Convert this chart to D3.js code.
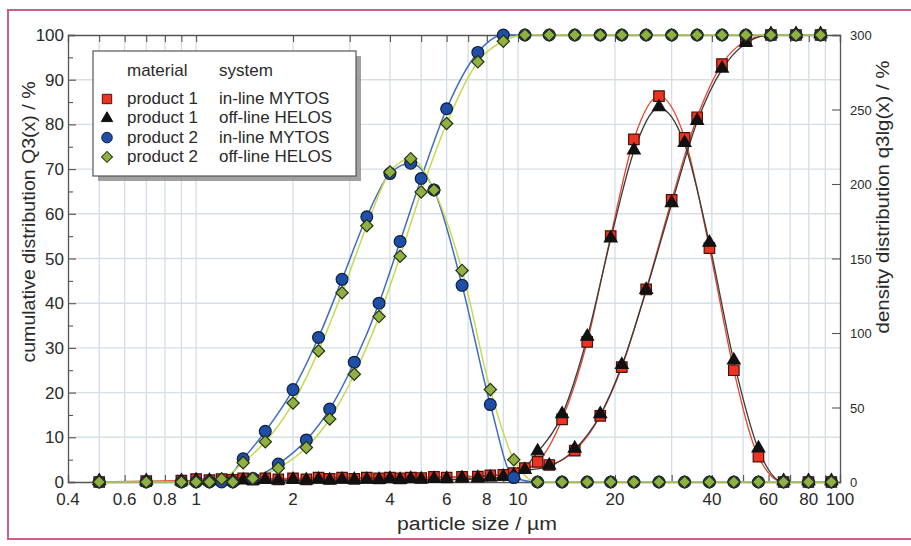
<!DOCTYPE html>
<html><head><meta charset="utf-8">
<script src="https://cdn.jsdelivr.net/npm/d3@7"></script>
<style>
html,body{margin:0;padding:0;background:#fff;}
svg{display:block;}
text{font-family:"Liberation Sans",Arial,Helvetica,sans-serif;fill:#2a2a2a;}
</style></head>
<body>
<svg id="chart" width="911" height="546"></svg>
<script>
// ---- data ----
const xTickLabels = [0.4, 0.6, 0.8, 1, 2, 4, 6, 8, 10, 20, 40, 60, 80, 100];
const yLeftTicks = [0,10,20,30,40,50,60,70,80,90,100];
const yRightTicks = [0,50,100,150,200,250,300];

// class upper limits (cumulative Q3)
const xCum = [0.5, 0.7, 0.9, 1.1, 1.3, 1.5, 1.8, 2.2, 2.6, 3.1, 3.7, 4.3, 5.0, 6.0, 7.5, 9.0, 10.5, 12.5, 15, 18, 21, 25, 30, 36, 43, 51, 61, 73, 87];
// class centres (density q3lg)
const xDen = [1.0, 1.2, 1.4, 1.64, 2.0, 2.4, 2.84, 3.39, 4.0, 4.64, 5.48, 6.7, 8.2, 9.7, 11.5, 13.7, 16.4, 19.4, 22.9, 27.4, 32.9, 39.3, 46.8, 55.8, 66.8, 79.8, 94];

// cumulative distribution Q3 (%)
const p1MytosCum = [0, 0.2, 0.3, 0.4, 0.5, 0.5, 0.6, 0.6, 0.7, 0.7, 0.8, 0.8, 0.9, 1.0, 1.2, 1.6, 3.1, 3.8, 7.0, 14.8, 25.7, 43.1, 63.1, 81.6, 93.5, 98.6, 100, 100, 100];
const p1HelosCum = [0, 0, 0, 0.1, 0.1, 0.1, 0.2, 0.2, 0.2, 0.3, 0.3, 0.3, 0.4, 0.5, 0.7, 1.0, 2.5, 3.5, 7.3, 15.0, 26.0, 42.8, 62.2, 80.6, 92.3, 98.1, 100, 100, 100];
const p2MytosCum = [0, 0, 0, 0, 0, 0.8, 4.0, 9.4, 16.3, 26.8, 40.0, 53.8, 67.9, 83.5, 96.1, 100, 100, 100, 100, 100, 100, 100, 100, 100, 100, 100, 100, 100, 100];
const p2HelosCum = [0, 0, 0, 0, 0, 0.8, 3.1, 7.7, 14.1, 24.1, 37.0, 50.5, 64.9, 80.2, 94.0, 98.6, 100, 100, 100, 100, 100, 100, 100, 100, 100, 100, 100, 100, 100];

// density distribution q3lg (%)
const p1MytosDen = [2, 2, 2.5, 2.5, 2.5, 3, 3, 3, 3, 3, 3.5, 3.5, 4.5, 6, 13.5, 42, 94, 165, 230, 259, 231, 157, 75, 17, 0, 0, 0];
const p1HelosDen = [0.5, 0.5, 0.5, 1, 1, 1, 1, 1, 1.5, 1.5, 1.5, 2, 2.5, 4, 20, 45, 97, 163, 222, 251, 227, 160, 81, 22, 0, 0, 0];
const p2MytosDen = [0, 0, 15.6, 34, 62, 97, 136, 178, 207, 214, 196, 132, 52, 3, 0, 0, 0, 0, 0, 0, 0, 0, 0, 0, 0, 0, 0];
const p2HelosDen = [0, 2, 13, 27, 53, 88, 127, 172, 208, 217, 196, 142, 62, 15, 0, 0, 0, 0, 0, 0, 0, 0, 0, 0, 0, 0, 0];

const legendRows = [
  {material:"product 1", system:"in-line MYTOS", key:"p1m"},
  {material:"product 1", system:"off-line HELOS", key:"p1h"},
  {material:"product 2", system:"in-line MYTOS", key:"p2m"},
  {material:"product 2", system:"off-line HELOS", key:"p2h"}
];

// ---- styles ----
const styles = {
  p1m:{line:"#e2462c", fill:"#ee3322", stroke:"#4a1208", shape:d3.symbolSquare, size:110, lw:1.3, rot:0},
  p1h:{line:"#3a3a3a", fill:"#111111", stroke:"#111111", shape:d3.symbolTriangle, size:70, lw:1.3, rot:0},
  p2m:{line:"#3d6cc2", fill:"#1f4ea6", stroke:"#0f1f40", shape:d3.symbolCircle, size:110, lw:1.5, rot:0},
  p2h:{line:"#c6da4c", fill:"#8fb042", stroke:"#27330e", shape:d3.symbolSquare, size:76, lw:1.5, rot:45}
};

const svg = d3.select("#chart");
const L = 68, R = 840, T = 35, B = 482;

const x = d3.scaleLog().domain([0.4, 100]).range([L, R]);
const yL = d3.scaleLinear().domain([0, 100]).range([B, T]);
const yR = d3.scaleLinear().domain([0, 300]).range([B, T]);

// frame
svg.append("rect").attr("x",8).attr("y",10).attr("width",940).attr("height",529)
  .attr("fill","none").attr("stroke","#cf5d89").attr("stroke-width",2);

// grid
const logTicks = [];
[0.1,1,10].forEach(d => { for (let k=1;k<=9;k++){ const v = d*k; if (v>=0.4 && v<=100) logTicks.push(+v.toPrecision(3)); } });
logTicks.push(100);
const grid = svg.append("g");
grid.selectAll("line.v").data(logTicks.filter(v=>v>0.4 && v<100)).join("line")
  .attr("x1",d=>x(d)).attr("x2",d=>x(d)).attr("y1",T).attr("y2",B)
  .attr("stroke","#cfdbe6").attr("stroke-width",1.2);
grid.selectAll("line.h").data(yLeftTicks.filter(v=>v>0 && v<100)).join("line")
  .attr("x1",L).attr("x2",R).attr("y1",d=>yL(d)).attr("y2",d=>yL(d))
  .attr("stroke","#d5dfe8").attr("stroke-width",1.4);

// axes
const axCol = "#555";
const axBottom = svg.append("g").attr("transform",`translate(0,${B})`)
  .call(d3.axisBottom(x).tickValues(logTicks).tickSize(-7).tickFormat(""));
const axTop = svg.append("g").attr("transform",`translate(0,${T})`)
  .call(d3.axisTop(x).tickValues(logTicks).tickSize(-7).tickFormat(""));
const axLeft = svg.append("g").attr("transform",`translate(${L},0)`)
  .call(d3.axisLeft(yL).tickValues(d3.range(0,101,5)).tickSize(-7).tickFormat(""));
const axRight = svg.append("g").attr("transform",`translate(${R},0)`)
  .call(d3.axisRight(yR).tickValues(yRightTicks).tickSize(-8).tickFormat(""));
[axBottom, axTop, axLeft, axRight].forEach(g => {
  g.select(".domain").attr("stroke",axCol).attr("stroke-width",1.3);
  g.selectAll(".tick line").attr("stroke",axCol).attr("stroke-width",1.1);
});
axLeft.selectAll(".tick line").attr("x2", d => d%10===0 ? 8 : 5);

// tick labels
const tl = svg.append("g").style("font-size","17px");
tl.selectAll("text.x").data(xTickLabels).join("text")
  .attr("x",d=>x(d)).attr("y",505).attr("text-anchor","middle").text(d=>d);
tl.selectAll("text.yl").data(yLeftTicks).join("text")
  .attr("x",L-4).attr("y",d=>yL(d)+6).attr("text-anchor","end").text(d=>d);
tl.selectAll("text.yr").data(yRightTicks).join("text")
  .attr("x",R+10).attr("y",d=>yR(d)+5).attr("text-anchor","start").style("font-size","13px").text(d=>d);

// axis titles
svg.append("text").attr("x",477).attr("y",530).attr("text-anchor","middle")
  .style("font-size","18px").attr("textLength",160).attr("lengthAdjust","spacingAndGlyphs")
  .text("particle size / \u00b5m");
svg.append("text").attr("transform","translate(35,222) rotate(-90)").attr("text-anchor","middle")
  .style("font-size","18px").attr("textLength",281).attr("lengthAdjust","spacingAndGlyphs")
  .text("cumulative distribution Q3(x) / %");
svg.append("text").attr("transform","translate(889,197) rotate(-90)").attr("text-anchor","middle")
  .style("font-size","18px").attr("textLength",273).attr("lengthAdjust","spacingAndGlyphs")
  .text("density distribution q3lg(x) / %");

// series
const series = [
  {key:"p1m", xs:xCum, ys:p1MytosCum, sc:yL},
  {key:"p1m", xs:xDen, ys:p1MytosDen, sc:yR},
  {key:"p1h", xs:xCum, ys:p1HelosCum, sc:yL},
  {key:"p1h", xs:xDen, ys:p1HelosDen, sc:yR},
  {key:"p2m", xs:xCum, ys:p2MytosCum, sc:yL},
  {key:"p2m", xs:xDen, ys:p2MytosDen, sc:yR},
  {key:"p2h", xs:xCum, ys:p2HelosCum, sc:yL},
  {key:"p2h", xs:xDen, ys:p2HelosDen, sc:yR}
];
const lineGen = d3.line().curve(d3.curveMonotoneX);
const linesG = svg.append("g");
series.forEach(s => {
  const pts = s.xs.map((xv,i)=>[x(xv), s.sc(s.ys[i])]);
  linesG.append("path").attr("d",lineGen(pts)).attr("fill","none")
    .attr("stroke",styles[s.key].line).attr("stroke-width",styles[s.key].lw);
});
const marksG = svg.append("g");
["p1m","p1h","p2m","p2h"].forEach(k => {
  const st = styles[k];
  const sym = d3.symbol().type(st.shape).size(st.size);
  series.filter(s=>s.key===k).forEach(s => {
    marksG.selectAll(null).data(s.xs.map((xv,i)=>[xv,s.ys[i]])).join("path")
      .attr("d",sym)
      .attr("transform",d=>`translate(${x(d[0])},${s.sc(d[1]) + (k==="p1h"?-1:0)}) rotate(${st.rot})`)
      .attr("fill",st.fill).attr("stroke",st.stroke).attr("stroke-width",1.2);
  });
});

// legend
const lg = svg.append("g");
lg.append("rect").attr("x",98).attr("y",56).attr("width",263).attr("height",125).attr("fill","#8a8a8a").attr("opacity",0.8);
lg.append("rect").attr("x",93).attr("y",51).attr("width",263).attr("height",125)
  .attr("fill","#fff").attr("stroke","#555").attr("stroke-width",1.2);
lg.append("text").attr("x",127).attr("y",76).style("font-size","17px").text("material");
lg.append("text").attr("x",219).attr("y",76).style("font-size","17px").text("system");
legendRows.forEach((r,i) => {
  const yy = 104 + i*19.3;
  const st = styles[r.key];
  lg.append("path").attr("d",d3.symbol().type(st.shape).size(st.size*0.8)())
    .attr("transform",`translate(107,${yy-5}) rotate(${st.rot})`)
    .attr("fill",st.fill).attr("stroke",st.stroke).attr("stroke-width",1);
  lg.append("text").attr("x",127).attr("y",yy).style("font-size","17px").text(r.material);
  lg.append("text").attr("x",219).attr("y",yy).style("font-size","17px").text(r.system);
});
</script>
</body></html>
